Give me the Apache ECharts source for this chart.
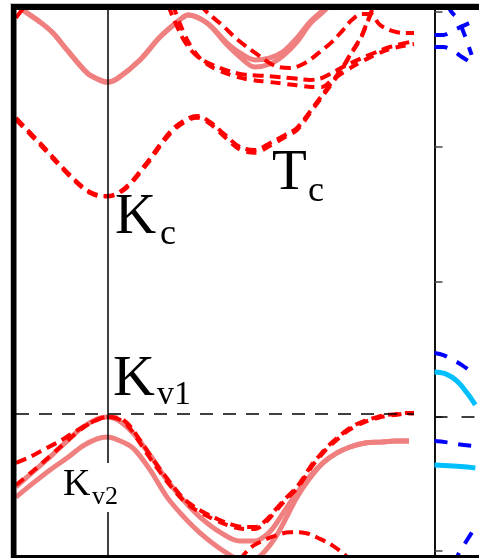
<!DOCTYPE html>
<html>
<head>
<meta charset="utf-8">
<script src="https://cdn.jsdelivr.net/npm/echarts@6/dist/echarts.min.js"></script>
<style>
html, body { margin: 0; padding: 0; background: #fff; }
#chart { width: 479px; height: 558px; }
</style>
</head>
<body>
<div id="chart"></div>
<script>
//*************** data: left panel (k along path, E in eV) ***************
var pinkS1 = [[0,1.530],[0.070,1.507],[0.241,1.463],[0.372,1.422],[0.513,1.359],[0.714,1.274],[0.814,1.252],[0.915,1.240],[1.015,1.252],[1.246,1.322],[1.447,1.407],[1.648,1.471],[1.729,1.489],[1.920,1.459],[2.121,1.385],[2.251,1.348],[2.402,1.322],[2.553,1.330],[2.683,1.352],[2.824,1.404],[2.955,1.463],[3.085,1.507],[3.136,1.526]];
var pinkS2 = [[0,1.530],[0.070,1.507],[0.241,1.463],[0.372,1.422],[0.513,1.359],[0.714,1.274],[0.814,1.252],[0.915,1.240],[1.015,1.252],[1.246,1.322],[1.447,1.407],[1.648,1.471],[1.729,1.489],[1.920,1.459],[2.121,1.378],[2.251,1.333],[2.402,1.296],[2.553,1.307],[2.683,1.337],[2.824,1.389],[2.955,1.456],[3.085,1.500],[3.156,1.526]];
var redD1 = [[0,1.107],[0.241,1.014],[0.543,0.895],[0.744,0.832],[0.915,0.817],[1.095,0.847],[1.296,0.932],[1.548,1.055],[1.698,1.099],[1.819,1.114],[1.950,1.092],[2.101,1.044],[2.251,0.999],[2.402,0.988],[2.553,1.014],[2.704,1.044],[2.824,1.070],[2.965,1.136],[3.116,1.211],[3.206,1.255],[3.296,1.303],[3.357,1.341],[3.467,1.407],[3.518,1.452],[3.558,1.489],[3.598,1.526]];
var redD1b = [[0,1.100],[0.241,1.008],[0.543,0.890],[0.744,0.828],[0.915,0.815],[1.095,0.843],[1.296,0.926],[1.548,1.048],[1.698,1.092],[1.819,1.108],[1.950,1.085],[2.101,1.035],[2.251,0.990],[2.402,0.978],[2.553,1.004],[2.704,1.036],[2.824,1.062],[2.965,1.130],[3.116,1.205],[3.206,1.250],[3.296,1.300],[3.357,1.338],[3.467,1.404],[3.518,1.449],[3.558,1.486],[3.598,1.523]];
var redU0 = [[0,1.478],[0.060,1.507],[0.121,1.533]];
var redU1 = [[1.528,1.526],[1.598,1.463],[1.698,1.389],[1.829,1.333],[2.0,1.300],[2.251,1.270],[2.503,1.263],[2.754,1.255],[2.955,1.248],[3.075,1.255],[3.156,1.270],[3.307,1.300],[3.528,1.337],[3.759,1.370],[4.0,1.392]];
var redU1b = [[1.578,1.526],[1.648,1.456],[1.749,1.378],[1.879,1.318],[2.050,1.281],[2.302,1.252],[2.553,1.240],[2.804,1.229],[2.975,1.222],[3.075,1.222],[3.176,1.248],[3.327,1.285],[3.528,1.326],[3.759,1.363],[4.0,1.381]];
var redU2 = [[1.849,1.526],[1.950,1.489],[2.070,1.452],[2.231,1.396],[2.432,1.341],[2.603,1.300],[2.754,1.292],[2.905,1.311],[3.055,1.352],[3.176,1.389],[3.286,1.433],[3.377,1.471],[3.477,1.493],[3.558,1.493],[3.658,1.452],[3.779,1.430],[3.910,1.422],[4.0,1.422]];

var pinkV1 = [[0,-0.262],[0.171,-0.206],[0.342,-0.151],[0.513,-0.092],[0.673,-0.040],[0.814,-0.010],[0.915,-0.003],[1.025,-0.014],[1.176,-0.062],[1.347,-0.144],[1.518,-0.237],[1.698,-0.318],[1.849,-0.374],[2.050,-0.430],[2.251,-0.463],[2.402,-0.463],[2.503,-0.444],[2.583,-0.415],[2.704,-0.348],[2.824,-0.285],[2.955,-0.222],[3.085,-0.173],[3.226,-0.136],[3.357,-0.114],[3.508,-0.099],[3.658,-0.096],[3.809,-0.092],[3.950,-0.092]];
var pinkV2 = [[0,-0.300],[0.171,-0.248],[0.342,-0.199],[0.513,-0.155],[0.673,-0.110],[0.814,-0.084],[0.915,-0.077],[1.025,-0.088],[1.176,-0.118],[1.347,-0.199],[1.518,-0.300],[1.698,-0.378],[1.849,-0.433],[2.0,-0.478],[2.151,-0.515],[2.302,-0.541],[2.402,-0.533],[2.503,-0.500],[2.603,-0.452],[2.704,-0.385],[2.824,-0.300],[2.955,-0.229],[3.085,-0.173],[3.226,-0.136],[3.357,-0.114],[3.508,-0.099],[3.658,-0.096],[3.809,-0.092],[3.950,-0.092]];
var redDv1 = [[0,-0.173],[0.141,-0.151],[0.271,-0.125],[0.422,-0.096],[0.573,-0.062],[0.744,-0.025],[0.915,-0.003],[1.025,-0.006],[1.116,-0.025],[1.246,-0.088],[1.347,-0.144],[1.477,-0.211],[1.578,-0.259],[1.678,-0.303],[1.779,-0.333],[1.899,-0.359],[2.0,-0.377],[2.151,-0.400],[2.302,-0.411],[2.402,-0.411],[2.503,-0.389],[2.603,-0.348],[2.704,-0.307],[2.824,-0.262],[2.905,-0.218],[2.985,-0.173],[3.055,-0.144],[3.126,-0.114],[3.226,-0.081],[3.327,-0.051],[3.427,-0.029],[3.528,-0.014],[3.628,-0.003],[3.729,0.005],[3.829,0.008],[3.930,0.012],[4.0,0.012]];
var redDv2 = [[0,-0.255],[0.171,-0.203],[0.342,-0.148],[0.513,-0.092],[0.673,-0.043],[0.814,-0.014],[0.915,-0.003],[1.025,-0.010],[1.116,-0.032],[1.246,-0.099],[1.347,-0.155],[1.477,-0.222],[1.578,-0.270],[1.678,-0.311],[1.779,-0.341],[1.899,-0.366],[2.0,-0.385],[2.151,-0.407],[2.302,-0.418],[2.402,-0.418],[2.503,-0.396],[2.603,-0.355],[2.704,-0.313],[2.824,-0.268],[2.905,-0.225],[2.985,-0.180],[3.055,-0.150],[3.126,-0.120],[3.226,-0.087],[3.327,-0.056],[3.427,-0.034],[3.528,-0.018],[3.628,-0.007],[3.729,0.002],[3.829,0.006],[3.930,0.010],[4.0,0.010]];
var redDv3 = [[2.251,-0.533],[2.352,-0.489],[2.472,-0.463],[2.603,-0.444],[2.754,-0.430],[2.905,-0.433],[3.055,-0.455],[3.186,-0.481],[3.307,-0.515],[3.377,-0.541]];

//*************** data: right panel ***************
var blueB1 = [[0,1.415],[0.121,1.415],[0.241,1.430],[0.352,1.444],[0.503,1.463]];
var blueB2 = [[0,1.370],[0.121,1.370],[0.271,1.352],[0.372,1.333],[0.503,1.311]];
var blueB3 = [[0.171,1.526],[0.231,1.500],[0.322,1.471],[0.392,1.426],[0.442,1.389],[0.503,1.341]];
var blueB4 = [[0,0.235],[0.121,0.227],[0.251,0.209],[0.372,0.190],[0.503,0.164]];
var blueB5 = [[0,-0.092],[0.151,-0.096],[0.302,-0.103],[0.503,-0.110]];
var blueB6 = [[0.271,-0.552],[0.332,-0.507],[0.442,-0.459],[0.553,-0.411]];
var cyanC1 = [[0,0.164],[0.151,0.157],[0.302,0.131],[0.442,0.086],[0.553,0.042]];
var cyanC2 = [[0,-0.181],[0.442,-0.188],[0.553,-0.192]];

var energyTicks = [-0.5, 0, 0.5, 1, 1.5];
var kPointK = 0.915;
var fermiLeft = 0.012;
var fermiRight = 0;

//*************** chart ***************
var chart = echarts.init(document.getElementById('chart'));

var PINK = '#F08080', RED = '#FF0000', BLUE = '#0000FF', CYAN = '#00BFFF';

function band(data, color, width, dash, gi) {
    return {
        type: 'line',
        xAxisIndex: gi, yAxisIndex: gi,
        data: data,
        smooth: 0.35,
        showSymbol: false,
        silent: true,
        animation: false,
        lineStyle: { color: color, width: width, type: dash || 'solid' }
    };
}

var redDash = [11, 6];
var blueDash = [13, 11];

var series = [
    band(pinkS1, PINK, 5, null, 0),
    band(pinkS2, PINK, 5, null, 0),
    band(pinkV1, PINK, 5, null, 0),
    band(pinkV2, PINK, 5, null, 0),
    band(redD1, RED, 4, redDash, 0),
    band(redD1b, RED, 4, [10, 7], 0),
    band(redU0, RED, 4, redDash, 0),
    band(redU1, RED, 4, redDash, 0),
    band(redU1b, RED, 4, [10, 7], 0),
    band(redU2, RED, 4, redDash, 0),
    band(redDv1, RED, 4, redDash, 0),
    band(redDv2, RED, 4, [10, 7], 0),
    band(redDv3, RED, 4, redDash, 0),
    band(blueB1, BLUE, 4, blueDash, 1),
    band(blueB2, BLUE, 4, blueDash, 1),
    band(blueB3, BLUE, 4, blueDash, 1),
    band(blueB4, BLUE, 4, blueDash, 1),
    band(blueB5, BLUE, 4, blueDash, 1),
    band(blueB6, BLUE, 4, blueDash, 1),
    band(cyanC1, CYAN, 5, null, 1),
    band(cyanC2, CYAN, 5, null, 1)
];

// reference lines: Fermi level and K point
series[0].markLine = {
    silent: true, animation: false, symbol: 'none', label: { show: false },
    data: [
        { yAxis: fermiLeft, lineStyle: { color: '#000', width: 1.5, type: [13, 10] } },
        { xAxis: kPointK, lineStyle: { color: '#000', width: 1.5, type: 'solid' } }
    ]
};
series[19].markLine = {
    silent: true, animation: false, symbol: 'none', label: { show: false },
    data: [
        { yAxis: fermiRight, lineStyle: { color: '#000', width: 1.5, type: [13, 14] } }
    ]
};

function yAx(gi, pos) {
    return {
        type: 'value', gridIndex: gi, position: pos,
        min: -0.5148, max: 1.5074,
        axisLine: { show: true, lineStyle: { color: '#111', width: 2 } },
        axisTick: { show: true, inside: true, length: 8, customValues: energyTicks, lineStyle: { color: '#444', width: 1.5 } },
        axisLabel: { show: false },
        splitLine: { show: false }
    };
}
function xAx(gi, max) {
    return {
        type: 'value', gridIndex: gi, min: 0, max: max,
        axisLine: { show: false }, axisTick: { show: false },
        axisLabel: { show: false }, splitLine: { show: false }
    };
}

var SERIF = '"Liberation Serif", "DejaVu Serif", serif';
function txt(s, x, y, size) {
    return { type: 'text', z: 110, silent: true,
        style: { text: s, x: x, y: y, font: size + 'px ' + SERIF, fill: '#000', verticalAlign: 'middle', align: 'left' } };
}

var option = {
    backgroundColor: '#fff',
    animation: false,
    grid: [
        { left: 16, top: 10, width: 398, height: 545 },
        { left: 434.5, top: 10, width: 60, height: 545 }
    ],
    xAxis: [xAx(0, 4), xAx(1, 0.603)],
    yAxis: [yAx(0, 'right'), yAx(1, 'left')],
    series: series,
    graphic: [
        // white margin outside the frame, and a cover for stray ticks near the left band
        { type: 'rect', z: 1000, silent: true, shape: { x: 0, y: 0, width: 10.5, height: 558 }, style: { fill: '#fff' } },
        { type: 'rect', z: 1000, silent: true, shape: { x: 0, y: 0, width: 479, height: 3 }, style: { fill: '#fff' } },
        { type: 'rect', z: 1, silent: true, shape: { x: 16, y: 10, width: 14, height: 545 }, style: { fill: '#fff' } },
        // frame bands
        { type: 'rect', z: 1001, silent: true, shape: { x: 10, y: 3, width: 469, height: 1 }, style: { fill: '#c8c8c8' } },
        { type: 'rect', z: 1001, silent: true, shape: { x: 10, y: 3, width: 1, height: 555 }, style: { fill: '#c8c8c8' } },
        { type: 'rect', z: 1001, silent: true, shape: { x: 11, y: 4, width: 468, height: 6 }, style: { fill: '#000' } },
        { type: 'rect', z: 1001, silent: true, shape: { x: 11, y: 4, width: 5.5, height: 554 }, style: { fill: '#000' } },
        { type: 'rect', z: 1001, silent: true, shape: { x: 11, y: 555, width: 468, height: 3 }, style: { fill: '#000' } },
        // gap in K line behind K_v2 label
        { type: 'rect', z: 105, silent: true, shape: { x: 100, y: 463, width: 14, height: 49 }, style: { fill: '#fff' } },
        txt('K', 115, 218, 57), txt('c', 160, 235, 36),
        txt('T', 272, 174, 57), txt('c', 308, 192, 36),
        txt('K', 113, 380, 58), txt('v1', 157, 395, 34),
        txt('K', 63, 485, 38), txt('v2', 92, 497, 26)
    ]
};

chart.setOption(option);
</script>
</body>
</html>
